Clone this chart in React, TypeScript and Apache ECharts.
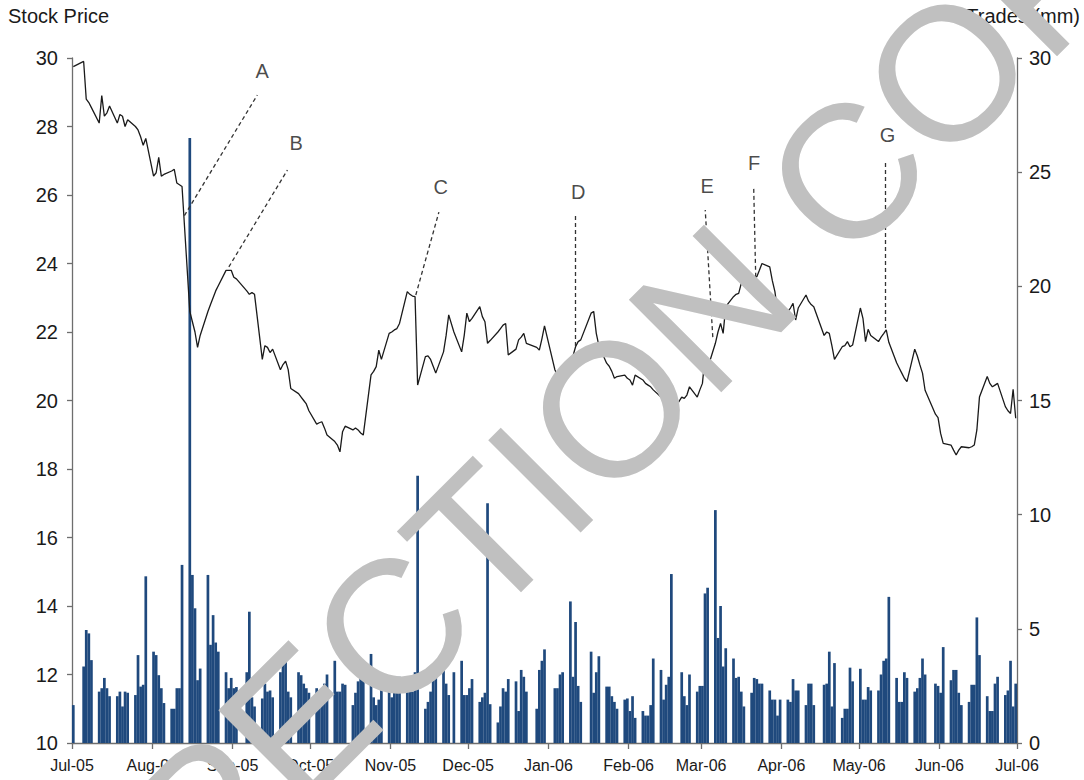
import React, { useEffect, useRef } from "react";
import * as echarts from "echarts";

const FONT = "'Liberation Sans', Arial, sans-serif";
const DAY = 86400000;

// Axis tick dates and labels
const TICK_DATES = [
  "2005-07-01", "2005-08-01", "2005-09-01", "2005-10-01", "2005-11-01", "2005-12-01", "2006-01-01",
  "2006-02-01", "2006-03-01", "2006-04-01", "2006-05-01", "2006-06-01", "2006-07-01",
];
const TICK_LABELS = [
  "Jul-05", "Aug-05", "Sep-05", "Oct-05", "Nov-05", "Dec-05", "Jan-06",
  "Feb-06", "Mar-06", "Apr-06", "May-06", "Jun-06", "Jul-06",
];

// Trading calendar: weekdays from 1 Jul 2005 to 30 Jun 2006, minus market holidays
const FIRST_DAY = "2005-07-01";
const LAST_DAY = "2006-06-30";
const HOLIDAYS = [
  "2005-07-04", "2005-09-05", "2005-11-24", "2005-12-26", "2006-01-02",
  "2006-01-16", "2006-02-20", "2006-04-14", "2006-05-29",
];

// Daily closing stock price (left axis)
const PRICES = [
  // Jul-05
  29.75, 29.9, 28.8, 28.7, 28.55, 28.1, 28.9, 28.3, 28.4, 28.6, 28.1, 28.35, 28.3, 28.0, 28.2, 28.0, 27.9, 27.7, 27.45, 27.65,
  // Aug-05
  26.55, 26.65, 27.1, 26.55, 26.6, 26.7, 26.75, 26.35, 26.3, 26.25, 22.6, 22.3, 22.0, 21.55, 21.9, 22.6, 22.8, 23.0, 23.2, 23.35, 23.8, 23.8, 23.8,
  // Sep-05
  23.6, 23.55, 23.2, 23.1, 23.15, 23.1, 21.2, 21.6, 21.55, 21.4, 21.5, 20.9, 21.05, 21.15, 20.9, 20.35, 20.2, 20.1, 20.0, 19.9, 19.7,
  // Oct-05
  19.31, 19.35, 19.38, 19.2, 18.99, 18.8, 18.7, 18.5, 19.09, 19.25, 19.14, 19.2, 19.14, 19.05, 18.99, 20.75, 20.85, 20.99, 21.47, 21.2, 21.96,
  // Nov-05
  22.0, 22.06, 22.1, 22.25, 23.18, 23.1, 23.05, 23.03, 20.45, 21.28, 21.3, 21.2, 21.0, 20.8, 21.42, 21.9, 22.5, 22.0, 21.42, 21.9, 22.55,
  // Dec-05
  22.3, 22.4, 22.74, 22.45, 22.3, 21.67, 21.75, 22.0, 22.1, 22.2, 22.25, 21.33, 21.5, 21.77, 21.85, 21.96, 21.67, 21.55, 21.47, 21.8, 22.18,
  // Jan-06
  20.9, 20.74, 20.6, 20.7, 21.1, 21.3, 21.57, 21.72, 21.77, 22.55, 22.6, 21.96, 21.6, 21.09, 21.0, 20.85, 20.65, 20.7, 20.74, 20.65,
  // Feb-06
  20.6, 20.45, 20.74, 20.6, 20.5, 20.45, 20.4, 20.31, 20.1, 19.95, 19.8, 19.7, 19.62, 20.1, 20.06, 20.16, 20.4, 20.1, 20.31,
  // Mar-06
  20.5, 21.28, 20.94, 21.67, 22.0, 22.25, 21.96, 22.74, 23.03, 23.1, 23.13, 23.42, 23.5, 23.66, 23.62, 23.61, 23.8, 24.0, 23.9, 23.5, 23.18, 22.6, 22.4,
  // Apr-06
  22.6, 22.7, 22.84, 22.35, 22.7, 23.08, 22.9, 22.8, 22.74, 21.9, 22.0, 21.96, 21.6, 21.2, 21.57, 21.6, 21.72, 21.57, 21.62,
  // May-06
  22.7, 22.4, 21.72, 22.08, 21.9, 21.72, 21.85, 21.95, 22.06, 21.7, 21.1, 20.95, 20.8, 20.65, 20.55, 21.5, 21.3, 21.04, 20.8, 20.3, 19.6, 19.5,
  // Jun-06
  19.04, 18.75, 18.7, 18.55, 18.41, 18.55, 18.65, 18.62, 18.65, 18.7, 19.14, 20.1, 20.7, 20.5, 20.4, 20.45, 20.5, 19.82, 19.7, 19.62, 20.33, 19.48,
];

// Daily trades in millions (right axis)
const TRADES = [
  // Jul-05
  1.66, 3.35, 4.95, 4.8, 3.63, 2.25, 2.4, 2.85, 2.4, 2.05, 2.05, 2.25, 1.6, 2.25, 2.2, 2.1, 3.85, 2.47, 2.55, 7.3,
  // Aug-05
  4.0, 3.85, 2.97, 2.4, 1.75, 1.5, 1.5, 2.4, 2.4, 7.8, 26.5, 7.36, 5.9, 2.75, 3.26, 7.36, 4.3, 5.6, 4.4, 4.0, 3.1, 2.4, 2.85,
  // Sep-05
  2.4, 2.45, 3.1, 5.75, 2.0, 1.6, 1.95, 2.6, 2.25, 2.3, 2.0, 3.1, 3.85, 3.8, 2.25, 2.0, 3.1, 2.97, 2.6, 2.4, 2.2,
  // Oct-05
  2.4, 2.2, 2.0, 2.6, 3.0, 3.6, 2.25, 2.25, 2.6, 2.55, 1.66, 2.2, 2.7, 3.6, 3.5, 3.9, 2.0, 1.66, 1.9, 2.77, 2.4,
  // Nov-05
  2.0, 2.2, 2.9, 2.9, 2.5, 2.3, 2.25, 3.1, 11.7, 1.5, 1.8, 2.25, 3.0, 3.0, 3.3, 2.6, 2.1, 3.1, 3.6, 2.1, 2.1,
  // Dec-05
  2.4, 2.8, 1.8, 2.0, 2.2, 10.5, 1.7, 0.9, 1.6, 2.4, 2.25, 2.8, 2.7, 1.4, 3.2, 2.9, 2.25, 1.5, 3.2, 3.6, 4.1,
  // Jan-06
  2.4, 2.4, 3.0, 3.1, 6.2, 2.9, 5.3, 2.5, 1.8, 4.0, 2.2, 3.1, 3.8, 2.47, 2.47, 2.05, 1.8, 1.5, 1.9, 1.95,
  // Feb-06
  1.4, 2.05, 1.1, 1.4, 1.2, 1.2, 1.66, 3.7, 3.2, 1.9, 2.55, 2.9, 7.4, 3.1, 2.05, 1.66, 3.0, 2.25, 2.5,
  // Mar-06
  2.5, 6.55, 6.8, 10.2, 4.6, 6.0, 3.35, 4.15, 3.7, 2.85, 2.9, 2.25, 1.6, 2.2, 2.85, 2.8, 2.6, 2.6, 2.3, 1.9, 1.9, 1.2, 1.9,
  // Apr-06
  1.9, 1.8, 2.8, 2.3, 2.3, 1.66, 2.6, 2.6, 1.66, 2.55, 2.6, 4.0, 1.6, 3.5, 1.1, 1.5, 1.5, 3.3, 2.7,
  // May-06
  3.25, 1.9, 1.9, 2.45, 2.3, 2.3, 3.0, 3.6, 3.7, 6.4, 2.85, 1.8, 1.8, 3.1, 2.85, 2.25, 2.4, 2.85, 3.7, 3.0, 2.6, 2.5,
  // Jun-06
  2.2, 4.2, 2.75, 3.2, 3.2, 2.2, 1.66, 1.8, 2.55, 2.55, 5.5, 3.85, 2.05, 1.4, 1.4, 2.6, 2.9, 2.1, 2.3, 3.6, 1.6, 2.6,
];

// Event annotations: dashed leader from a point on the price line to the label
const ANNOTATION_LABELS = ["A", "B", "C", "D", "E", "F", "G"];
const ANNOTATION_FROM: [string, number][] = [
  ["2005-08-13T10:00", 25.4], ["2005-08-30T14:00", 23.9], ["2005-11-10T19:00", 23.08],
  ["2006-01-11T10:00", 21.59], ["2006-03-05T12:00", 21.85], ["2006-03-22T02:00", 23.61],
  ["2006-05-11T07:00", 22.12],
];
const ANNOTATION_TO: [string, number][] = [
  ["2005-09-10T14:00", 28.92], ["2005-09-22T05:00", 26.73], ["2005-11-19T17:00", 25.5],
  ["2006-01-11T10:00", 25.42], ["2006-03-02T14:00", 25.56], ["2006-03-21T07:00", 26.26],
  ["2006-05-11T07:00", 27.02],
];
const ANNOTATION_TEXT_AT: [string, number][] = [
  ["2005-09-12T12:00", 29.62], ["2005-09-25T14:00", 27.52], ["2005-11-20T10:00", 26.23],
  ["2006-01-12T12:00", 26.09], ["2006-03-03T07:00", 26.26], ["2006-03-21T12:00", 26.93],
  ["2006-05-12T00:00", 27.75],
];

const ts = (s: string) => Date.parse(s.length <= 10 ? s + "T00:00:00Z" : s + ":00Z");

function tradingDays(): number[] {
  const out: number[] = [];
  for (let t = ts(FIRST_DAY); t <= ts(LAST_DAY); t += DAY) {
    const d = new Date(t);
    const wd = d.getUTCDay();
    if (wd === 0 || wd === 6) continue;
    if (HOLIDAYS.includes(d.toISOString().slice(0, 10))) continue;
    out.push(t + DAY / 2);
  }
  return out;
}

export default function App() {
  const ref = useRef<HTMLDivElement>(null);

  useEffect(() => {
    document.body.style.margin = "0";
    if (!ref.current) return;
    const chart = echarts.init(ref.current, undefined, { renderer: "svg" });
    const days = tradingDays();
    const tickValues = TICK_DATES.map(ts);
    const labelOf = (v: number) => {
      const i = tickValues.findIndex((t) => Math.abs(t - v) < DAY / 2);
      return i >= 0 ? TICK_LABELS[i] : "";
    };
    const axisColor = "#6e6e6e";
    const textColor = "#1a1a1a";

    chart.setOption({
      animation: false,
      textStyle: { fontFamily: FONT },
      grid: { left: 72, right: 67, top: 58, bottom: 37 },
      xAxis: {
        type: "value",
        min: tickValues[0],
        max: tickValues[tickValues.length - 1],
        axisLine: { show: true, lineStyle: { color: axisColor, width: 1.3 } },
        axisTick: { show: true, customValues: tickValues, length: 6, lineStyle: { color: axisColor, width: 1.3 } },
        axisLabel: {
          customValues: tickValues,
          formatter: (v: number) => labelOf(v),
          color: textColor,
          fontSize: 16,
          margin: 14,
          fontFamily: FONT,
          showMinLabel: true,
          showMaxLabel: true,
        },
        splitLine: { show: false },
      },
      yAxis: [
        {
          type: "value",
          min: 10,
          max: 30,
          interval: 2,
          position: "left",
          axisLine: { show: true, lineStyle: { color: axisColor, width: 1.3 } },
          axisTick: { show: true, length: 5, lineStyle: { color: axisColor, width: 1.3 } },
          axisLabel: { color: textColor, fontSize: 20, margin: 14, fontFamily: FONT },
          splitLine: { show: false },
        },
        {
          type: "value",
          min: 0,
          max: 30,
          interval: 5,
          position: "right",
          axisLine: { show: true, lineStyle: { color: axisColor, width: 1.3 } },
          axisTick: { show: true, length: 5, lineStyle: { color: axisColor, width: 1.3 } },
          axisLabel: { color: textColor, fontSize: 20, margin: 12, fontFamily: FONT },
          splitLine: { show: false },
        },
      ],
      series: [
        {
          name: "Trades (mm)",
          type: "bar",
          yAxisIndex: 1,
          data: days.map((t, i) => [t, TRADES[i]]),
          barWidth: 2.7,
          itemStyle: { color: "#1F497D" },
          silent: true,
          z: 2,
        },
        {
          name: "Stock Price",
          type: "line",
          yAxisIndex: 0,
          data: days.map((t, i) => [t, PRICES[i]]),
          symbol: "none",
          lineStyle: { color: "#1a1a1a", width: 1.3 },
          silent: true,
          z: 3,
          markLine: {
            silent: true,
            symbol: ["none", "none"],
            label: { show: false },
            lineStyle: { type: [4, 3], color: "#333", width: 1.3 },
            data: ANNOTATION_LABELS.map((_, i) => [
              { coord: [ts(ANNOTATION_FROM[i][0]), ANNOTATION_FROM[i][1]] },
              { coord: [ts(ANNOTATION_TO[i][0]), ANNOTATION_TO[i][1]] },
            ]),
          },
        },
        {
          name: "Events",
          type: "scatter",
          yAxisIndex: 0,
          symbolSize: 1,
          itemStyle: { color: "rgba(0,0,0,0)" },
          silent: true,
          z: 5,
          label: {
            show: true,
            position: "inside",
            formatter: "{b}",
            fontSize: 20,
            color: textColor,
            fontFamily: FONT,
          },
          data: ANNOTATION_LABELS.map((l, i) => ({
            name: l,
            value: [ts(ANNOTATION_TEXT_AT[i][0]), ANNOTATION_TEXT_AT[i][1]],
          })),
        },
      ],
      graphic: [
        {
          type: "text",
          left: 8,
          top: 6,
          z: 10,
          style: { text: "Stock Price", fontSize: 20, fill: textColor, fontFamily: FONT },
        },
        {
          type: "text",
          right: 4,
          top: 6,
          z: 10,
          style: { text: "Trades (mm)", fontSize: 20, fill: textColor, fontFamily: FONT },
        },
        {
          type: "text",
          x: 559,
          y: 461,
          rotation: (45 * Math.PI) / 180,
          z: 100,
          silent: true,
          style: {
            text: "INSPECTION COPY",
            fontSize: 190,
            fontFamily: FONT,
            fill: "#c0c0c0",
            align: "center",
            verticalAlign: "middle",
          },
        },
      ],
    });
    return () => chart.dispose();
  }, []);

  return <div ref={ref} style={{ width: 1084, height: 780 }} />;
}
